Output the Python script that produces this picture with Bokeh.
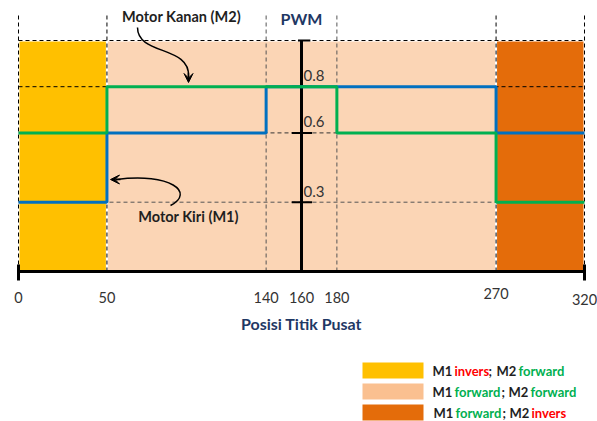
from bokeh.plotting import figure
from bokeh.models import Range1d, Arrow, VeeHead
from bokeh.core.properties import value
from bokeh.embed import file_html
from bokeh.resources import INLINE

# ---------------- data ----------------
tick_pos = [0, 50, 140, 160, 180, 270, 320]
tick_labels = ["0", "50", "140", "160", "180", "270", "320"]
dash_x = [0, 50, 140, 180, 270, 320]
pwm_levels = [0.3, 0.6, 0.8]
pwm_labels = ["0.3", "0.6", "0.8"]
pwm_top = 1.0
center_pos = 160

m1_x = [0, 50, 50, 140, 140, 270, 270, 320]
m1_y = [0.3, 0.3, 0.6, 0.6, 0.8, 0.8, 0.6, 0.6]
m2_x = [0, 50, 50, 180, 180, 270, 270, 320]
m2_y = [0.6, 0.6, 0.8, 0.8, 0.6, 0.6, 0.3, 0.3]

zone_left = [0, 50, 270]
zone_right = [50, 270, 320]
zone_colors = ["#FFC000", "#FBD5B5", "#E46C0A"]
legend_colors = ["#FFC000", "#FAC090", "#E46C0A"]
zone_m1 = ["invers", "forward", "forward"]
zone_m2 = ["forward", "forward", "invers"]

# ---------------- layout helpers (pixel -> data) ----------------
W, H = 597, 421
X0, SX = 18.0, 566.0 / 320.0
Y0, SY = 271.0, 231.0
def X(px):
    return (px - X0) / SX
def Y(py):
    return (Y0 - py) / SY

p = figure(width=W, height=H, output_backend="svg", toolbar_location=None,
           x_range=Range1d(X(0), X(W)), y_range=Range1d(Y(H), Y(0)),
           min_border=0)
p.axis.visible = False
p.grid.visible = False
p.outline_line_color = None
p.background_fill_color = "white"
p.border_fill_color = "white"

FONT = value("Lato")
DARK = "#1F1F1F"
NAVY = "#1F3864"
RED = "#FF0000"
GREEN = "#00B050"

# zones
p.quad(left=zone_left, right=zone_right, bottom=[0] * 3, top=[pwm_top] * 3,
       fill_color=zone_colors, line_color="white", line_width=2)

# dashed guides
p.segment(x0=dash_x, y0=[0] * len(dash_x), x1=dash_x, y1=[Y(13)] * len(dash_x),
          line_color=["black", "black", "#555555", "#555555", "black", "black"],
          line_dash="4 3", line_width=1)
hl = [pwm_top] + pwm_levels
p.segment(x0=[0] * len(hl), y0=hl, x1=[320] * len(hl), y1=hl,
          line_color=["black", "#555555", "#333333", "black"], line_dash="4 3", line_width=1)

# PWM axis
p.segment(x0=[center_pos], y0=[0], x1=[center_pos], y1=[pwm_top], line_color="black", line_width=3)
p.segment(x0=[center_pos - 5.5] * len(pwm_levels), y0=pwm_levels,
          x1=[center_pos + 6] * len(pwm_levels), y1=pwm_levels, line_color="black", line_width=2)
p.segment(x0=[center_pos - 2], y0=[pwm_top], x1=[center_pos + 5], y1=[pwm_top], line_color="black", line_width=2)

# motor lines
p.line(m1_x, m1_y, line_color="#0070C0", line_width=3)
p.line(m2_x, m2_y, line_color=GREEN, line_width=3)

# bottom axis
p.segment(x0=[0], y0=[0], x1=[320], y1=[0], line_color="black", line_width=3)
p.segment(x0=[0, 320], y0=[Y(264)] * 2, x1=[0, 320], y1=[Y(280)] * 2, line_color="black", line_width=3)

# tick labels
ty = [Y(297)] * 5 + [Y(293), Y(299)]
p.text(x=tick_pos, y=ty, text=tick_labels, text_font=FONT, text_font_size="14.5px",
       text_align="center", text_baseline="middle", text_color="#333333")
p.text(x=[X(303)] * 3, y=pwm_levels, y_offset=-11, text=pwm_labels,
       text_font=FONT, text_font_size="15px", text_align="left", text_baseline="middle",
       text_color="#333333")

p.text(x=[center_pos], y=[Y(18)], text=["PWM"], text_font=FONT, text_font_size="16px",
       text_font_style="bold", text_align="center", text_baseline="middle", text_color=NAVY)
p.text(x=[center_pos], y=[Y(323)], text=["Posisi Titik Pusat"], text_font=FONT,
       text_font_size="16px", text_font_style="bold", text_align="center",
       text_baseline="middle", text_color=NAVY)

# annotations
p.text(x=[X(181)], y=[Y(16)], text=["Motor Kanan (M2)"], text_font=FONT, text_font_size="14.5px",
       text_font_style="bold", text_align="center", text_baseline="middle", text_color=DARK)
p.text(x=[X(188)], y=[Y(216)], text=["Motor Kiri (M1)"], text_font=FONT, text_font_size="14.5px",
       text_font_style="bold", text_align="center", text_baseline="middle", text_color=DARK)
p.bezier(x0=[X(137)], y0=[Y(27)], x1=[X(188)], y1=[Y(76)], cx0=[X(137)], cy0=[Y(55)],
         cx1=[X(190)], cy1=[Y(45)], line_color="black", line_width=1.5)
p.add_layout(Arrow(end=VeeHead(size=9, fill_color="black", line_color="black", line_width=1),
                   x_start=X(188), y_start=Y(72), x_end=X(188), y_end=Y(82),
                   line_color="black", line_width=1.5))
p.bezier(x0=[X(170)], y0=[Y(205)], x1=[X(116)], y1=[Y(179)], cx0=[X(195)], cy0=[Y(192)],
         cx1=[X(170)], cy1=[Y(172)], line_color="black", line_width=1.5)
p.add_layout(Arrow(end=VeeHead(size=9, fill_color="black", line_color="black", line_width=1),
                   x_start=X(120), y_start=Y(179), x_end=X(110), y_end=Y(179),
                   line_color="black", line_width=1.5))

# legend
rows_y = [370, 391, 412]
# left pixel of: M1, word1, ';', M2, word2
piece_px = [[432, 454, 488, 496, 518],
            [432, 454, 501, 508, 530],
            [433, 455, 502, 509, 531]]
p.quad(left=[X(362)] * 3, right=[X(423)] * 3, bottom=[Y(r + 8) for r in rows_y],
       top=[Y(r - 8) for r in rows_y], fill_color=legend_colors, line_color=None)
def wc(w):
    return RED if w == "invers" else GREEN
for i, r in enumerate(rows_y):
    ry = Y(r)
    pp = piece_px[i]
    m1w, m2w = zone_m1[i], zone_m2[i]
    p.text(x=[X(v) for v in pp], y=[ry] * 5, text=["M1", m1w, ";", "M2", m2w],
           text_font=FONT, text_font_size="13px", text_font_style="bold",
           text_align="left", text_baseline="middle",
           text_color=[DARK, wc(m1w), DARK, DARK, wc(m2w)])

open("out.html", "w").write(file_html(p, INLINE))
